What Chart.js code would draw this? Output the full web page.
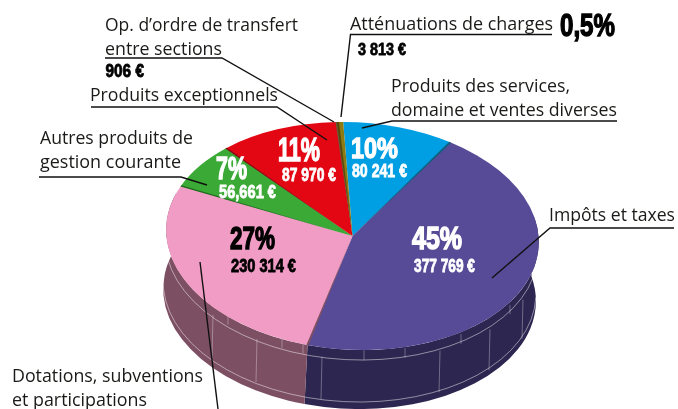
<!DOCTYPE html>
<html lang="fr">
<head>
<meta charset="utf-8">
<title>Recettes de fonctionnement</title>
<script src="https://cdn.jsdelivr.net/npm/chart.js@4"></script>
<style>html,body{margin:0;padding:0;background:#fff}canvas{display:block}</style>
</head>
<body>
<canvas id="c" width="678" height="409"></canvas>
<script>
// ---- data (clockwise from the top of the pie) ----
const categories = ["Produits des services, domaine et ventes diverses","Impôts et taxes","Dotations, subventions et participations","Autres produits de gestion courante","Produits exceptionnels","Op. d’ordre de transfert entre sections","Atténuations de charges"];
const values = [80241, 377769, 230314, 56661, 87970, 906, 3813];
const sliceColors = ["#009fe3","#574a96","#f09cc4","#3aa935","#e30613","#a8926a","#8c7a12"];
const sideColors = ["#0b5f86","#2d2650","#7d4f63","#1f6b1c","#7c0a12","#6a5a3c","#554a0c"];
const edgeColors = ["#0f5f80",null,"#7d4f63","#1f6b1c","#8a0a14","#6a5a3c","#554a0c"];

// ---- text: [string, x, baseline, right end] ----
const plainLabels = [
  ["Op. d’ordre de transfert",105,31,298],["entre sections",105,55,222],
  ["Produits exceptionnels",90,101,278],
  ["Autres produits de",40,144,193],["gestion courante",40,168,181],
  ["Atténuations de charges",350,30,553],
  ["Produits des services,",391,92,570],["domaine et ventes diverses",391,116,617],
  ["Impôts et taxes",549,221,675],
  ["Dotations, subventions",12,382,203],["et participations",12,406,147]
];
// [string, x, baseline, right end, cap height, colour]
const heavyLabels = [
  ["906 €",105.5,77,144,13,"#000"],["0,5%",560,36,615,22,"#000"],["3 813 €",358,55,406,12,"#000"],
  ["10%",351,158,398,21,"#fff"],["80 241 €",352,177,407,13,"#fff"],
  ["11%",278,161,320,24,"#fff"],["87 970 €",282,181,336,13,"#fff"],
  ["7%",216,179,247,23,"#fff"],["56,661 €",219,198,276,13,"#fff"],
  ["27%",230,249,275,23,"#000"],["230 314 €",231,272,296,13,"#000"],
  ["45%",412,249,462,23,"#fff"],["377 769 €",414,272,475,13,"#fff"]
];
const leaders = [
  [[105,58],[222,58],[334,122]],
  [[91,107],[277,107],[327,140]],
  [[39,177],[181,177],[207,185]],
  [[552,34.5],[350.5,34.5],[341,117]],
  [[617,121],[392,121],[362,128]],
  [[674,228],[550,228],[492,278]],
  [[200,262],[218,409]]
];
// side decoration ribs, at these x positions
const upperRibs = [228,282,303,364,405,461,510];
const lowerRibs = [213,257,322,440,490,523];

// ---- pie placement on the page ----
const CX = 352.5, CY = 236, RX = 186.5, SQ = 0.61, TILT = 3 * Math.PI / 180;
const BX = 349.5, BY = 295;

const pie3d = {
  id: "pie3d",
  beforeDatasetsDraw(chart) {
    const ctx = chart.ctx, arcs = chart.getDatasetMeta(0).data;
    const RY = RX * SQ;
    // side walls
    arcs.forEach((a, i) => {
      const s = Math.max(a.startAngle, -0.25), e = Math.min(a.endAngle, Math.PI + 0.3);
      if (e <= s) return;
      ctx.fillStyle = sideColors[i];
      ctx.beginPath();
      ctx.ellipse(CX, CY, RX, RY, TILT, s, e);
      ctx.ellipse(BX, BY, RX, RY, TILT, e, s, true);
      ctx.closePath();
      ctx.fill();
    });
    // thin pale lines along the wall
    const L1 = [CX - 1, CY + 10], L2 = [BX, BY - 7];
    ctx.strokeStyle = "rgba(255,255,255,.6)";
    ctx.lineWidth = 0.8;
    [L1, L2].forEach(p => {
      ctx.beginPath();
      ctx.ellipse(p[0], p[1], RX, RY, TILT, 0, Math.PI + 0.05);
      ctx.stroke();
    });
    const yOn = (p, x) => p[1] + (x - p[0]) * Math.tan(TILT) + RY * Math.sqrt(Math.max(0, 1 - Math.pow((x - p[0]) / RX, 2)));
    ctx.strokeStyle = "rgba(255,255,255,.4)";
    upperRibs.forEach(x => { ctx.beginPath(); ctx.moveTo(x, yOn([CX, CY], x)); ctx.lineTo(x, yOn(L1, x)); ctx.stroke(); });
    lowerRibs.forEach(x => { ctx.beginPath(); ctx.moveTo(x, yOn(L1, x)); ctx.lineTo(x - 1, yOn(L2, x)); ctx.stroke(); });
    // squash and tilt the library's round pie into the top ellipse
    const a0 = arcs[0];
    ctx.save();
    ctx.translate(CX, CY); ctx.rotate(TILT); ctx.scale(1, SQ); ctx.translate(-a0.x, -a0.y);
  },
  afterDatasetsDraw(chart) {
    const ctx = chart.ctx, arcs = chart.getDatasetMeta(0).data;
    // darker edge along each slice boundary (still in the squashed space)
    arcs.forEach((a, i) => {
      if (!edgeColors[i]) return;
      const t = i === 0 ? a.endAngle : a.startAngle;
      const R = a.outerRadius;
      ctx.fillStyle = edgeColors[i];
      ctx.beginPath();
      ctx.moveTo(a.x, a.y);
      ctx.lineTo(a.x + R * Math.cos(t - 0.006), a.y + R * Math.sin(t - 0.006));
      ctx.lineTo(a.x + R * Math.cos(t + 0.006), a.y + R * Math.sin(t + 0.006));
      ctx.closePath();
      ctx.fill();
    });
    ctx.restore();
  },
  afterDraw(chart) {
    const ctx = chart.ctx;
    ctx.save();
    ctx.textBaseline = "alphabetic"; ctx.textAlign = "left";
    // leader lines
    ctx.strokeStyle = "#111"; ctx.lineWidth = 1.4; ctx.lineJoin = "miter";
    leaders.forEach(pts => {
      ctx.beginPath();
      pts.forEach((p, i) => i ? ctx.lineTo(p[0], p[1]) : ctx.moveTo(p[0], p[1]));
      ctx.stroke();
    });
    // plain captions
    ctx.fillStyle = "#1a1a18";
    ctx.font = '18px "Open Sans"';
    plainLabels.forEach(l => ctx.fillText(l[0], l[1], l[2], l[3] - l[1]));
    // heavy condensed figures
    heavyLabels.forEach(l => {
      const size = l[4] / 0.716;
      ctx.font = 'bold ' + size + 'px "Liberation Sans"';
      ctx.fillStyle = l[5]; ctx.strokeStyle = l[5];
      ctx.lineWidth = Math.max(0.6, size * 0.045);
      ctx.fillText(l[0], l[1], l[2], l[3] - l[1]);
      ctx.strokeText(l[0], l[1], l[2], l[3] - l[1]);
    });
    ctx.restore();
  }
};

new Chart(document.getElementById("c"), {
  type: "pie",
  data: { labels: categories, datasets: [{ data: values, backgroundColor: sliceColors, borderWidth: 0, radius: RX, clip: false }] },
  options: {
    responsive: false, animation: false, rotation: -4.7,
    plugins: { legend: { display: false }, tooltip: { enabled: false } },
    layout: { padding: 0 }
  },
  plugins: [pie3d]
});
</script>
</body>
</html>
